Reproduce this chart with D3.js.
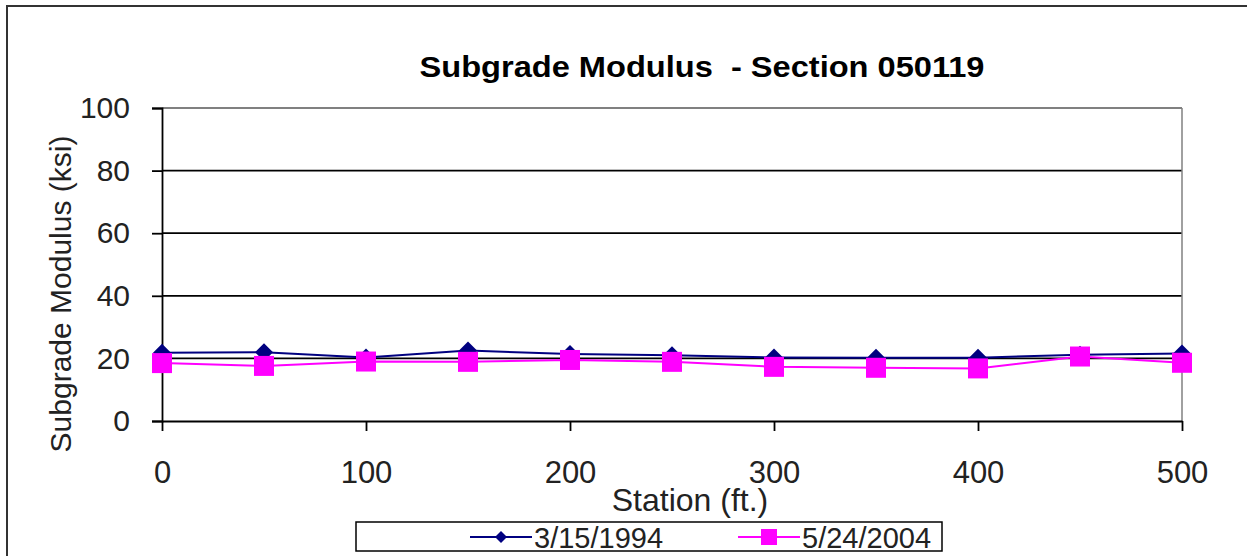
<!DOCTYPE html>
<html><head><meta charset="utf-8">
<script src="https://cdn.jsdelivr.net/npm/d3@7"></script>
<style>body{margin:0;background:#fff;}svg{display:block;}</style>
</head><body><svg id="c" width="1247" height="556"></svg>
<script>
const stations = [0, 50, 100, 150, 200, 250, 300, 350, 400, 450, 500];
const series1994 = [21.8, 22.0, 20.3, 22.5, 21.4, 21.0, 20.3, 20.2, 20.2, 21.2, 21.6];
const series2004 = [18.5, 17.6, 19.0, 18.9, 19.5, 18.9, 17.3, 17.0, 16.8, 20.6, 18.6];
const seriesNames = ["3/15/1994", "5/24/2004"];
const xTicks = [0, 100, 200, 300, 400, 500];
const yTicks = [0, 20, 40, 60, 80, 100];
const titleText = "Subgrade Modulus  - Section 050119";
const xLabel = "Station (ft.)";
const yLabel = "Subgrade Modulus (ksi)";

const svg = d3.select("#c");
const font = "Arial, 'Liberation Sans', sans-serif";
const txt = "#222";
const L = 162, R = 1182, T = 108, B = 421;
const x = d3.scaleLinear().domain([0, 500]).range([L, R]);
const y = d3.scaleLinear().domain([0, 100]).range([B, T]);

// outer frame
svg.append("rect").attr("x", 7).attr("y", 6).attr("width", 1300).attr("height", 600)
  .attr("fill", "#fff").attr("stroke", "#333").attr("stroke-width", 2);

// title
svg.append("text").attr("x", 702).attr("y", 77).attr("text-anchor", "middle")
  .attr("font-family", font).attr("font-weight", "bold").attr("font-size", 29)
  .attr("textLength", 565).attr("lengthAdjust", "spacingAndGlyphs")
  .attr("fill", "#000").style("white-space", "pre").text(titleText);

// gridlines
svg.append("g").selectAll("line").data(yTicks.filter(d => d > 0)).join("line")
  .attr("x1", L).attr("x2", R).attr("y1", d => y(d)).attr("y2", d => y(d))
  .attr("stroke", d => d === 100 ? "#808080" : "#000").attr("stroke-width", 1.8);
// right border
svg.append("line").attr("x1", R).attr("x2", R).attr("y1", T).attr("y2", B)
  .attr("stroke", "#808080").attr("stroke-width", 1.5);

// y axis
const yAxis = d3.axisLeft(y).tickValues(yTicks).tickSize(10).tickPadding(22);
const gy = svg.append("g").attr("transform", `translate(${L},0)`).call(yAxis);
gy.select(".domain").attr("stroke", "#000").attr("stroke-width", 1.8);
gy.selectAll(".tick line").attr("stroke", "#000").attr("stroke-width", 1.8);
gy.selectAll("text").attr("font-family", font).attr("font-size", 30).attr("fill", txt);

// x axis
const xAxis = d3.axisBottom(x).tickValues(xTicks).tickSize(10).tickPadding(30).tickSizeOuter(0);
const gx = svg.append("g").attr("transform", `translate(0,${B})`).call(xAxis);
gx.select(".domain").attr("stroke", "#000").attr("stroke-width", 1.8);
gx.selectAll(".tick line").attr("stroke", "#000").attr("stroke-width", 1.8);
gx.selectAll("text").attr("font-family", font).attr("font-size", 31).attr("fill", txt);

// axis labels
svg.append("text").attr("x", 690).attr("y", 511).attr("text-anchor", "middle")
  .attr("font-family", font).attr("font-size", 32).attr("fill", txt).text(xLabel);
svg.append("text").attr("transform", "translate(71,294) rotate(-90)").attr("text-anchor", "middle")
  .attr("font-family", font).attr("font-size", 30).attr("fill", txt).text(yLabel);

// series
const colors = ["#000080", "#FF00FF"];
const line = d3.line().x((d, i) => x(stations[i])).y(d => y(d));
const diamond = s => `M0,${-s}L${s},0L0,${s}L${-s},0Z`;

svg.append("path").attr("d", line(series1994)).attr("fill", "none")
  .attr("stroke", colors[0]).attr("stroke-width", 2);
svg.append("g").selectAll("path").data(series1994).join("path")
  .attr("transform", (d, i) => `translate(${x(stations[i])},${y(d)})`)
  .attr("d", diamond(9)).attr("fill", colors[0]);
svg.append("path").attr("d", line(series2004)).attr("fill", "none")
  .attr("stroke", colors[1]).attr("stroke-width", 2);
svg.append("g").selectAll("rect").data(series2004).join("rect")
  .attr("x", (d, i) => x(stations[i]) - 10).attr("y", d => y(d) - 10)
  .attr("width", 20).attr("height", 20).attr("fill", colors[1]);

// legend
const lg = svg.append("g");
lg.append("rect").attr("x", 356).attr("y", 522).attr("width", 586).attr("height", 29)
  .attr("fill", "#fff").attr("stroke", "#000").attr("stroke-width", 1.5);
const items = [{x0: 470, name: seriesNames[0]}, {x0: 738, name: seriesNames[1]}];
items.forEach((it, k) => {
  const cy = 537;
  lg.append("line").attr("x1", it.x0).attr("x2", it.x0 + 62).attr("y1", cy).attr("y2", cy)
    .attr("stroke", colors[k]).attr("stroke-width", 2);
  if (k === 0) {
    lg.append("path").attr("transform", `translate(${it.x0 + 31},${cy})`).attr("d", diamond(6)).attr("fill", colors[0]);
  } else {
    lg.append("rect").attr("x", it.x0 + 31 - 8).attr("y", cy - 8).attr("width", 16).attr("height", 16).attr("fill", colors[1]);
  }
  lg.append("text").attr("x", it.x0 + 64).attr("y", cy + 11).attr("font-family", font)
    .attr("font-size", 29).attr("fill", txt).text(it.name);
});
</script></body></html>
